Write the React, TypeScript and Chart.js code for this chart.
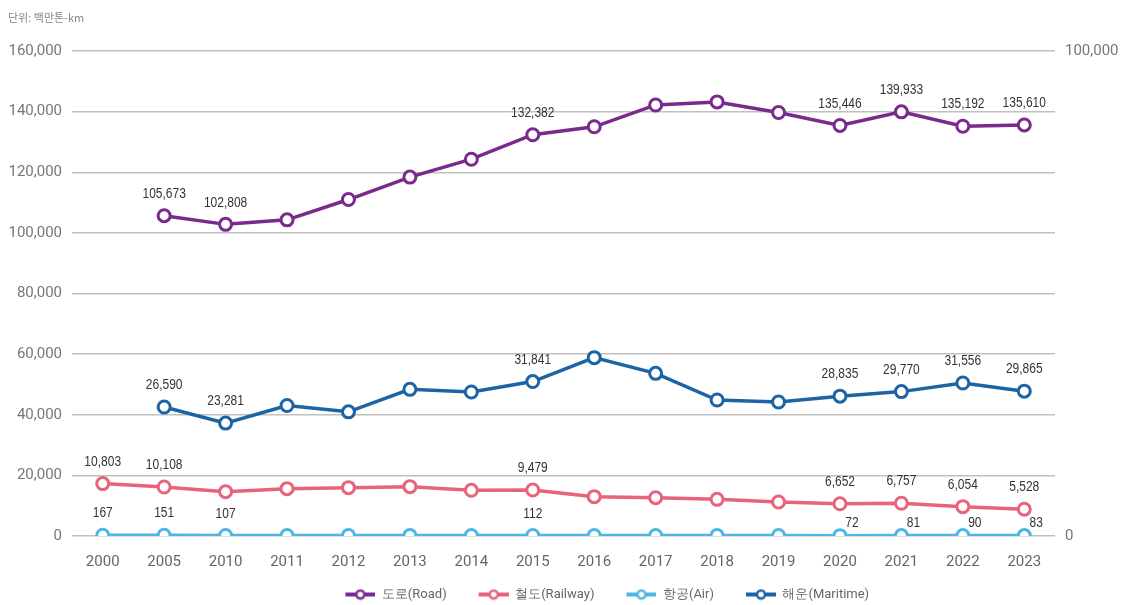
import React, { useEffect, useRef } from "react";
import { Chart, registerables } from "chart.js";

Chart.register(...registerables);

const years = ["2000", "2005", "2010", "2011", "2012", "2013", "2014", "2015", "2016", "2017", "2018", "2019", "2020", "2021", "2022", "2023"];
const road = [null, 105673, 102808, 104300, 111000, 118400, 124300, 132382, 135000, 142200, 143200, 139700, 135446, 139933, 135192, 135610];
const railway = [10803, 10108, 9140, 9760, 9970, 10170, 9420, 9479, 8110, 7900, 7560, 7010, 6652, 6757, 6054, 5528];
const air = [167, 151, 107, 118, 120, 118, 116, 112, 113, 117, 119, 93, 72, 81, 90, 83];
const maritime = [null, 26590, 23281, 26900, 25600, 30240, 29690, 31841, 36770, 33540, 28040, 27630, 28835, 29770, 31556, 29865];

const roadLabeled = ["2005", "2010", "2015", "2020", "2021", "2022", "2023"];
const railLabeled = ["2000", "2005", "2015", "2020", "2021", "2022", "2023"];
const airLabeled = ["2000", "2005", "2010", "2015", "2020", "2021", "2022", "2023"];
const airShifted = ["2020", "2021", "2022", "2023"];
const maritimeLabeled = ["2005", "2010", "2015", "2020", "2021", "2022", "2023"];

const seriesNames = ["도로(Road)", "철도(Railway)", "항공(Air)", "해운(Maritime)"];
const colors = ["#7a2a8c", "#e8647a", "#4db6e6", "#1d64a4"];
const unitText = "단위: 백만톤-km";

const TICK_FONT = "Roboto, 'Liberation Sans', sans-serif";
const LABEL_FONT = "'Liberation Sans', Arial, sans-serif";

const ICON_W = 54;

function legendIcon(color: string | null) {
  const c = document.createElement("canvas");
  c.width = ICON_W;
  c.height = 12;
  if (!color) return c;
  const ctx = c.getContext("2d")!;
  ctx.strokeStyle = color;
  ctx.lineWidth = 4;
  ctx.beginPath();
  ctx.moveTo(ICON_W - 30, 6);
  ctx.lineTo(ICON_W, 6);
  ctx.stroke();
  ctx.beginPath();
  ctx.arc(ICON_W - 15, 6, 4, 0, Math.PI * 2);
  ctx.fillStyle = "#fff";
  ctx.fill();
  ctx.lineWidth = 2.5;
  ctx.stroke();
  return c;
}

const labelPlugin = {
  id: "valueLabels",
  afterDatasetsDraw(chart: any) {
    const ctx = chart.ctx;
    const lists = [roadLabeled, railLabeled, airLabeled, maritimeLabeled];
    chart.data.datasets.forEach((ds: any, di: number) => {
      const meta = chart.getDatasetMeta(di);
      meta.data.forEach((pt: any, i: number) => {
        const yr = years[i];
        if (!lists[di].includes(yr)) return;
        const v = ds.data[i];
        if (v == null) return;
        let dx = 0;
        let dy = -22;
        if (di === 2 && airShifted.includes(yr)) {
          dx = 12;
          dy = -13;
        }
        ctx.save();
        ctx.translate(pt.x + dx, pt.y + dy);
        ctx.scale(0.8, 1);
        ctx.font = "15px " + LABEL_FONT;
        ctx.fillStyle = "#333";
        ctx.textAlign = "center";
        ctx.textBaseline = "middle";
        ctx.fillText(v.toLocaleString("en-US"), 0, 0);
        ctx.restore();
      });
    });
  },
};

export default function App() {
  const ref = useRef<HTMLCanvasElement>(null);
  useEffect(() => {
    document.body.style.margin = "0";
    const datasets = [road, railway, air, maritime].map((d, i) => ({
      label: seriesNames[i],
      data: d,
      borderColor: colors[i],
      backgroundColor: "#fff",
      pointBackgroundColor: "#fff",
      pointBorderColor: colors[i],
      borderWidth: 3.5,
      pointRadius: 6,
      pointBorderWidth: 3,
      yAxisID: i === 0 ? "y" : "y1",
      spanGaps: false,
      order: 3 - i,
    }));
    const chart = new Chart(ref.current!, {
      type: "line",
      data: { labels: years, datasets },
      plugins: [labelPlugin],
      options: {
        animation: false,
        responsive: false,
        layout: { padding: { top: 51, left: 0, right: 0, bottom: -6 } },
        scales: {
          x: {
            offset: true,
            grid: { display: false, drawTicks: false },
            border: { display: false },
            ticks: { color: "#666", font: { size: 15, family: TICK_FONT }, padding: 17, autoSkip: false, maxRotation: 0 },
            afterFit: (s: any) => { s.height = 44; },
          },
          y: {
            position: "left",
            min: 0,
            max: 160000,
            ticks: {
              stepSize: 20000,
              color: "#777",
              font: { size: 15, family: TICK_FONT },
              padding: 10,
              callback: (v: any) => Number(v).toLocaleString("en-US"),
            },
            grid: { color: "#c0c0c0", lineWidth: 1.5, drawTicks: false },
            border: { display: false },
            afterFit: (s: any) => { s.width = 72; },
          },
          y1: {
            position: "right",
            min: 0,
            max: 100000,
            ticks: {
              stepSize: 100000,
              color: "#777",
              font: { size: 15, family: TICK_FONT },
              padding: 10,
              callback: (v: any) => Number(v).toLocaleString("en-US"),
            },
            grid: { display: false, drawTicks: false },
            border: { display: false },
            afterFit: (s: any) => { s.width = 67; },
          },
        },
        plugins: {
          legend: {
            position: "bottom",
            labels: {
              usePointStyle: true,
              pointStyleWidth: ICON_W,
              boxHeight: 12,
              color: "#666",
              font: { size: 13, family: TICK_FONT },
              padding: 8,
              generateLabels: (ch: any) => [
                {
                  text: "",
                  pointStyle: legendIcon(null),
                  fillStyle: "rgba(0,0,0,0)",
                  strokeStyle: "rgba(0,0,0,0)",
                  lineWidth: 0,
                  hidden: false,
                  datasetIndex: -1,
                  fontColor: "rgba(0,0,0,0)",
                },
                ...ch.data.datasets.map((ds: any, i: number) => ({
                  text: ds.label,
                  pointStyle: legendIcon(colors[i]),
                  fillStyle: "#fff",
                  strokeStyle: colors[i],
                  lineWidth: 0,
                  hidden: false,
                  datasetIndex: i,
                  fontColor: "#666",
                })),
              ],
            },
          },
          tooltip: { enabled: false },
        },
      },
    });
    return () => chart.destroy();
  }, []);
  return (
    <div style={{ position: "relative", width: 1122, height: 605 }}>
      <div
        style={{
          position: "absolute",
          left: 8,
          top: 9,
          fontSize: 11,
          color: "#888",
          fontFamily: "'Noto Sans CJK KR', sans-serif",
        }}
      >
        {unitText}
      </div>
      <canvas ref={ref} width={1122} height={605} style={{ display: "block" }} />
    </div>
  );
}
